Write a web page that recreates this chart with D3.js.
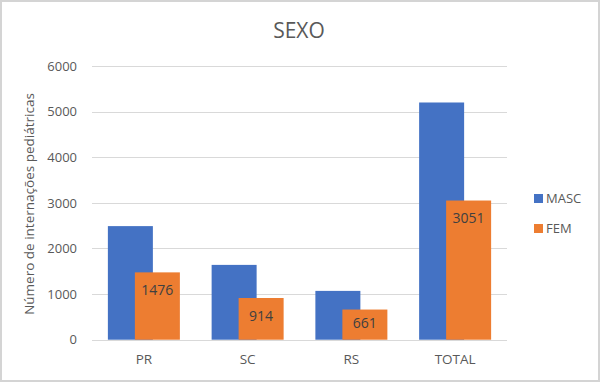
<!DOCTYPE html>
<html><head><meta charset="utf-8">
<script src="https://cdn.jsdelivr.net/npm/d3@7"></script>
<style>html,body{margin:0;padding:0;background:#fff;}svg{display:block;}</style>
</head><body>
<script>
const categories = ["PR", "SC", "RS", "TOTAL"];
const seriesNames = ["MASC", "FEM"];
const masc = [2490, 1640, 1070, 5200];
const fem = [1476, 914, 661, 3051];
const yTicks = [0, 1000, 2000, 3000, 4000, 5000, 6000];
const colors = ["#4472C4", "#ED7D31"];

const W = 600, H = 382;
const font = "'Open Sans', 'Noto Sans', sans-serif";
const svg = d3.select("body").append("svg").attr("width", W).attr("height", H);
svg.append("rect").attr("x", 1).attr("y", 1).attr("width", W - 2).attr("height", H - 2)
  .attr("fill", "#fff").attr("stroke", "#d4d4d4").attr("stroke-width", 2);

const x = d3.scaleBand().domain(categories).range([92, 507]).paddingInner(0).paddingOuter(0);
const y = d3.scaleLinear().domain([0, 6000]).range([339.7, 66]);

// gridlines
svg.append("g").selectAll("line").data(yTicks).join("line")
  .attr("x1", 92).attr("x2", 507)
  .attr("y1", d => Math.round(y(d)) + 0.5).attr("y2", d => Math.round(y(d)) + 0.5)
  .attr("stroke", "#d9d9d9").attr("stroke-width", 1);

// y axis labels
const yAxis = d3.axisLeft(y).tickValues(yTicks).tickSize(0).tickPadding(0).tickFormat(d3.format("d"));
const ya = svg.append("g").attr("transform", "translate(77,0)").call(yAxis);
ya.select(".domain").remove();
ya.selectAll("text").attr("font-family", font).attr("font-size", 13).attr("fill", "#595959");

// x axis labels
const xAxis = d3.axisBottom(x).tickSize(0).tickPadding(0);
const xa = svg.append("g").attr("transform", "translate(0,354)").call(xAxis);
xa.select(".domain").remove();
xa.selectAll("text").attr("font-family", font).attr("font-size", 13.5).attr("fill", "#595959");

const barW = 45, offset = 27, groupW = barW + offset;
const series = [masc, fem];
series.forEach((vals, si) => {
  svg.append("g").selectAll("rect").data(categories).join("rect")
    .attr("x", (c) => x(c) + x.bandwidth() / 2 - groupW / 2 + si * offset)
    .attr("width", barW)
    .attr("y", (c, i) => y(vals[i]))
    .attr("height", (c, i) => y(0) - y(vals[i]))
    .attr("fill", colors[si]);
});

// data labels on FEM
svg.append("g").selectAll("text").data(categories).join("text")
  .attr("x", c => x(c) + x.bandwidth() / 2 - groupW / 2 + offset + barW / 2)
  .attr("y", (c, i) => Math.min(y(fem[i]) + 18, (y(fem[i]) + y(0)) / 2 - 2))
  .attr("dy", "0.35em")
  .attr("text-anchor", "middle")
  .attr("font-family", font).attr("font-size", 14).attr("fill", "#404040")
  .text((c, i) => fem[i]);

// title
svg.append("text").attr("x", 299).attr("y", 30.5).attr("dy", "0.35em")
  .attr("text-anchor", "middle").attr("font-family", font).attr("font-size", 21)
  .attr("fill", "#595959").text("SEXO");

// y axis title
svg.append("text").attr("transform", "translate(29,204) rotate(-90)")
  .attr("dy", "0.35em").attr("text-anchor", "middle")
  .attr("font-family", font).attr("font-size", 13.5).attr("fill", "#595959")
  .text("Número de internações pediátricas");

// legend
const lg = svg.append("g").selectAll("g").data(seriesNames).join("g")
  .attr("transform", (d, i) => `translate(534,${194 + i * 30})`);
lg.append("rect").attr("width", 9).attr("height", 9).attr("fill", (d, i) => colors[i]);
lg.append("text").attr("x", 12).attr("y", 4.5).attr("dy", "0.35em")
  .attr("font-family", font).attr("font-size", 13).attr("fill", "#595959").text(d => d);
</script>
</body></html>
